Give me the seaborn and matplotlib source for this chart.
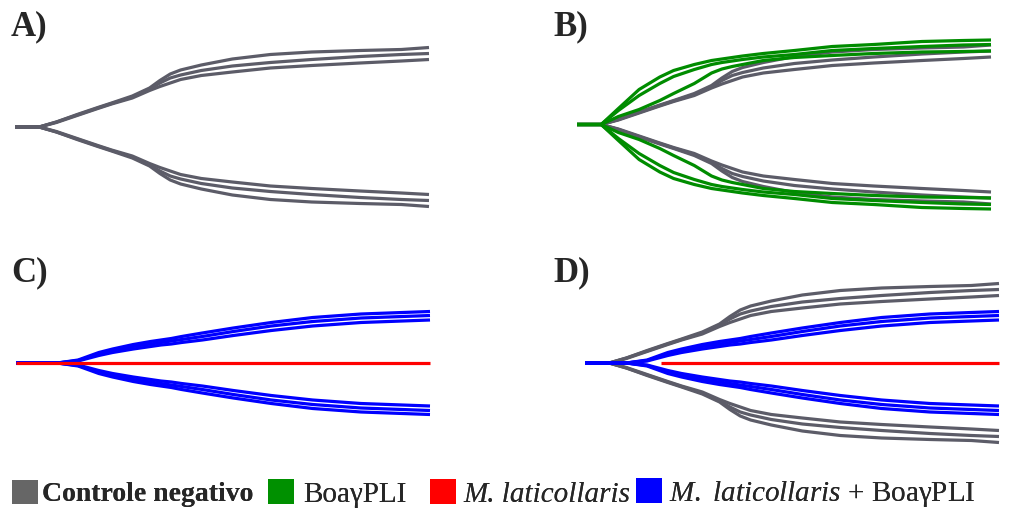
import numpy as np
import pandas as pd
import matplotlib
matplotlib.use("Agg")
import matplotlib.pyplot as plt
from matplotlib.patches import Patch
import seaborn as sns

sns.set_theme(style="white")
plt.rcParams["font.family"] = ["Liberation Serif", "DejaVu Serif"]
plt.rcParams["mathtext.fontset"] = "custom"
plt.rcParams["mathtext.it"] = "Liberation Serif:italic"
plt.rcParams["mathtext.rm"] = "Liberation Serif"

# ---------------- data (time in min, amplitude in mm) ----------------
time = [0, 3.5, 6, 9, 12, 14, 17, 19.5, 21, 22.5, 24, 27, 31.5, 37, 43, 50, 56, 60]

grey_rep1 = [0, 0, 4, 10, 15.6, 19.2, 24.8, 31.2, 37.2, 42.4, 45.6, 49.6, 54.4, 58, 60, 61.2, 62, 63.6]
grey_rep2 = [0, 0, 4, 9.6, 15.2, 18.8, 24, 30.4, 35.2, 39.2, 41.6, 45.2, 48.8, 51.6, 54, 56.4, 58, 58.8]
grey_rep3 = [0, 0, 3.6, 9.2, 14.8, 18.4, 23.2, 29.2, 32.4, 35.2, 38, 41.2, 44, 47.2, 49.2, 51.2, 52.8, 54]

green_rep1 = [0, 0, 12.8, 28, 38, 43.2, 48, 51.2, 52.4, 53.6, 54.8, 56.8, 59.2, 62.4, 64, 66.4, 67.2, 67.6]
green_rep2 = [0, 0, 11.2, 23.2, 32.8, 38.4, 44, 48, 49.6, 50.8, 52, 54, 56, 59.2, 60.8, 62.4, 63.6, 64]
green_rep3 = [0, 0, 6.4, 12, 19.2, 24.8, 32.8, 41.2, 44.4, 46.4, 48, 51.2, 53.6, 55.2, 56.8, 58, 58.4, 58.8]

blue_rep1 = [0, 0, 0, 2.4, 8.4, 11.2, 14.8, 17.2, 18.4, 19.6, 21.2, 24, 28, 32.4, 36.4, 39.2, 40.4, 41.2]
blue_rep2 = [0, 0, 0, 2, 7.2, 10, 13.2, 15.2, 16.4, 17.6, 18.8, 21.2, 25.2, 29.6, 33.2, 36, 37.2, 38]
blue_rep3 = [0, 0, 0, 1.6, 6, 8.4, 11.2, 13.2, 14.4, 15.2, 16.4, 18.4, 22, 26, 29.6, 32.4, 33.6, 34.4]

red_time_c = [0, 60]
red_time_d = [11, 60]
red_amp = [0, 0]

legend_labels = ["Controle negativo", "BoaγPLI", "M. laticollaris",
                 r"$\mathit{M.}$ $\mathit{laticollaris}$ + BoaγPLI"]
panel_labels = ["A)", "B)", "C)", "D)"]

colors = {"grey": "#5c5c68", "green": "#008c00", "red": "#ff0000", "blue": "#0000ff"}
legend_colors = ["#666666", "#009000", "#ff0000", "#0000ff"]

groups = {
    "grey": [grey_rep1, grey_rep2, grey_rep3],
    "green": [green_rep1, green_rep2, green_rep3],
    "blue": [blue_rep1, blue_rep2, blue_rep3],
}

rows = []
for g, reps in groups.items():
    for r, amp in enumerate(reps):
        for side, sgn in (("up", 1), ("down", -1)):
            for t, a in zip(time, amp):
                rows.append(dict(group=g, curve=f"{g}{r}{side}", time=t, y=sgn * a / 2))
df = pd.DataFrame(rows)

W, H = 1024, 513
fig = plt.figure(figsize=(W / 100, H / 100), dpi=100)

def add_ax(left, center):
    ax = fig.add_axes([left / W, (H - center - 100) / H, 414 / W, 200 / H])
    ax.set_xlim(0, 60)
    ax.set_ylim(-40, 40)
    ax.axis("off")
    return ax

LW = 2.3

def draw(ax, g):
    sub = df[df.group == g]
    sns.lineplot(data=sub, x="time", y="y", units="curve", estimator=None,
                 color=colors[g], lw=LW, ax=ax, legend=False, sort=False,
                 solid_capstyle="butt", clip_on=False)

def draw_red(ax, t):
    sns.lineplot(x=t, y=red_amp, color=colors["red"], lw=LW, ax=ax,
                 legend=False, solid_capstyle="butt", clip_on=False)

axA = add_ax(15, 127)
draw(axA, "grey")

axB = add_ax(577, 124.5)
draw(axB, "grey")
draw(axB, "green")

axC = add_ax(16, 363)
draw(axC, "blue")
draw_red(axC, red_time_c)

axD = add_ax(585, 363)
draw(axD, "grey")
draw(axD, "blue")
draw_red(axD, red_time_d)

# panel letters
for lab, (x, yb) in zip(panel_labels, [(11, 35), (553, 35), (11, 281), (553, 281)]):
    fig.text(x / W, 1 - yb / H, lab, fontsize=25, fontweight="bold",
             ha="left", va="baseline")

# legend items
xs = [12, 268, 430, 636]
gaps = [4, 9, 7, 7]
weights = ["bold", "normal", "normal", "normal"]
sizes = [20, 21, 21, 21]
italics = [False, False, True, False]
for lab, col, x, gap, wt, sz, it in zip(legend_labels, legend_colors, xs, gaps,
                                        weights, sizes, italics):
    sz_px = sz * 100 / 72
    leg = fig.legend(handles=[Patch(facecolor=col, edgecolor="none")], labels=[lab],
                     loc="center left", bbox_to_anchor=(x / W, 1 - 493.5 / H),
                     frameon=False, fontsize=sz, borderpad=0, borderaxespad=0,
                     handlelength=26 / sz_px, handleheight=26 / sz_px,
                     handletextpad=gap / sz_px)
    for txt in leg.get_texts():
        txt.set_fontweight(wt)
        if it:
            txt.set_fontstyle("italic")
    fig.add_artist(leg)

fig.savefig("out.png", dpi=100)
